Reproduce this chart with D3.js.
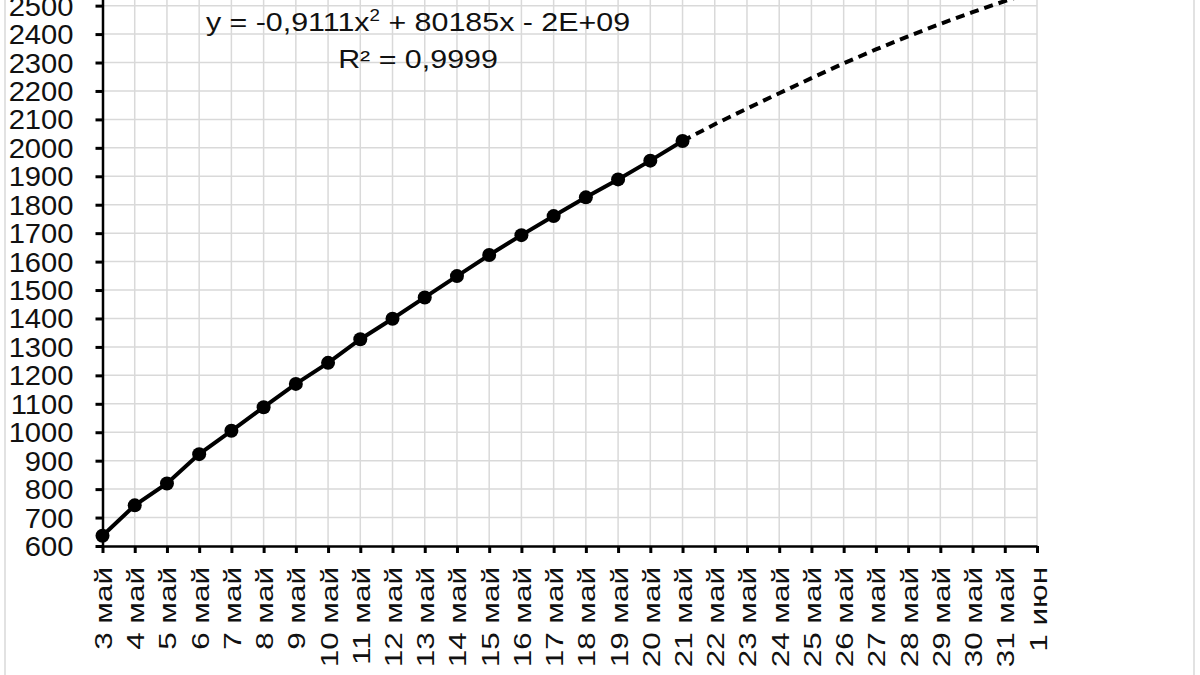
<!DOCTYPE html>
<html>
<head>
<meta charset="utf-8">
<script src="https://cdn.jsdelivr.net/npm/d3@7"></script>
<style>
  html, body { margin: 0; padding: 0; background: #fff; }
  svg { display: block; }
  text { font-family: "Liberation Sans", Arial, sans-serif; fill: #111; }
</style>
</head>
<body>
<svg id="chart" width="1200" height="675"></svg>
<script>
const categories = ["3 май","4 май","5 май","6 май","7 май","8 май","9 май","10 май","11 май","12 май",
  "13 май","14 май","15 май","16 май","17 май","18 май","19 май","20 май","21 май","22 май",
  "23 май","24 май","25 май","26 май","27 май","28 май","29 май","30 май","31 май","1 июн"];
const actualValues = [636, 743, 820, 923, 1005, 1088, 1170, 1244, 1327, 1399, 1474, 1549, 1623,
  1693, 1760, 1826, 1889, 1955, 2024];
const trendCategories = ["21 май","22 май","23 май","24 май","25 май","26 май","27 май","28 май",
  "29 май","30 май","31 май","1 июн"];
const trendValues = [2024, 2083, 2138, 2192, 2245, 2297, 2346, 2392, 2436, 2477, 2516, 2553];
const yTicks = [600,700,800,900,1000,1100,1200,1300,1400,1500,1600,1700,1800,1900,2000,
  2100,2200,2300,2400,2500];
const gridTop = 2600;
const equationLine1 = ["y = -0,9111x", "2", " + 80185x - 2E+09"];
const equationLine2 = "R² = 0,9999";

const svg = d3.select("#chart");
const x0 = 102.5, x1 = 1037, yBottom = 546;
const pxPer100 = 28.44;

const x = d3.scalePoint().domain(categories).range([x0, x1]);
const y = d3.scaleLinear().domain([600, gridTop]).range([yBottom, yBottom - 20 * pxPer100]);

// outer border
svg.append("rect").attr("x", 5).attr("y", -5).attr("width", 1189).attr("height", 690)
  .attr("fill", "none").attr("stroke", "#d9d9d9").attr("stroke-width", 1.5);

// grid
const grid = svg.append("g");
grid.selectAll("line.v").data(categories.slice(1)).join("line")
  .attr("x1", d => x(d)).attr("x2", d => x(d))
  .attr("y1", yBottom).attr("y2", y(gridTop))
  .attr("stroke", "#d9d9d9").attr("stroke-width", 1.5);
grid.selectAll("line.h").data(yTicks.slice(1).concat([gridTop])).join("line")
  .attr("x1", x0).attr("x2", x1)
  .attr("y1", d => y(d)).attr("y2", d => y(d))
  .attr("stroke", "#d9d9d9").attr("stroke-width", 1.5);

// y axis
const yAxis = d3.axisLeft(y).tickValues(yTicks).tickFormat(d3.format("d"))
  .tickSize(7).tickPadding(0).tickSizeOuter(0);
const gy = svg.append("g").attr("transform", `translate(${x0},0)`).call(yAxis);
gy.select(".domain").attr("stroke", "#000").attr("stroke-width", 2.5);
gy.selectAll(".tick line").attr("stroke", "#000").attr("stroke-width", 3);
gy.selectAll(".tick text").attr("font-size", 27).attr("fill", "#111")
  .attr("font-family", "'Liberation Sans', Arial, sans-serif")
  .attr("x", null).attr("dy", null)
  .attr("transform", "translate(-29,9.5) scale(1.08,1)");

// x axis
const xAxis = d3.axisBottom(x).tickSize(7).tickSizeOuter(0);
const gx = svg.append("g").attr("transform", `translate(0,${yBottom})`).call(xAxis);
gx.select(".domain").attr("stroke", "#000").attr("stroke-width", 2.5);
gx.selectAll(".tick line").attr("stroke", "#000").attr("stroke-width", 3);
gx.selectAll(".tick text").attr("font-size", 24).attr("fill", "#111")
  .attr("font-family", "'Liberation Sans', Arial, sans-serif")
  .attr("text-anchor", "end").attr("dy", null).attr("y", 0)
  .attr("transform", "translate(9,21) rotate(-90) scale(1.31,1)");

// trend line (dashed)
const line = d3.line().x(d => x(d[0])).y(d => y(d[1]));
svg.append("path").datum(trendCategories.map((c, i) => [c, trendValues[i]]))
  .attr("d", line).attr("fill", "none").attr("stroke", "#000")
  .attr("stroke-width", 4).attr("stroke-dasharray", "9,6");

// actual data line
const actual = actualValues.map((v, i) => [categories[i], v]);
svg.append("path").datum(actual).attr("d", line)
  .attr("fill", "none").attr("stroke", "#000").attr("stroke-width", 4);
svg.selectAll("circle.pt").data(actual).join("circle")
  .attr("cx", d => x(d[0])).attr("cy", d => y(d[1])).attr("r", 7).attr("fill", "#000");

// equation
const eqG = svg.append("g").attr("transform", "translate(418,31) scale(1.17,1)");
const eq = eqG.append("text").attr("x", 0).attr("y", 0).attr("text-anchor", "middle")
  .attr("font-size", 26);
eq.append("tspan").text(equationLine1[0]);
eq.append("tspan").text(equationLine1[1]).attr("font-size", 16).attr("dy", -10);
eq.append("tspan").text(equationLine1[2]).attr("dy", 10);
svg.append("g").attr("transform", "translate(418,68) scale(1.17,1)")
  .append("text").attr("x", 0).attr("y", 0).attr("text-anchor", "middle")
  .attr("font-size", 26).text(equationLine2);
</script>
</body>
</html>
